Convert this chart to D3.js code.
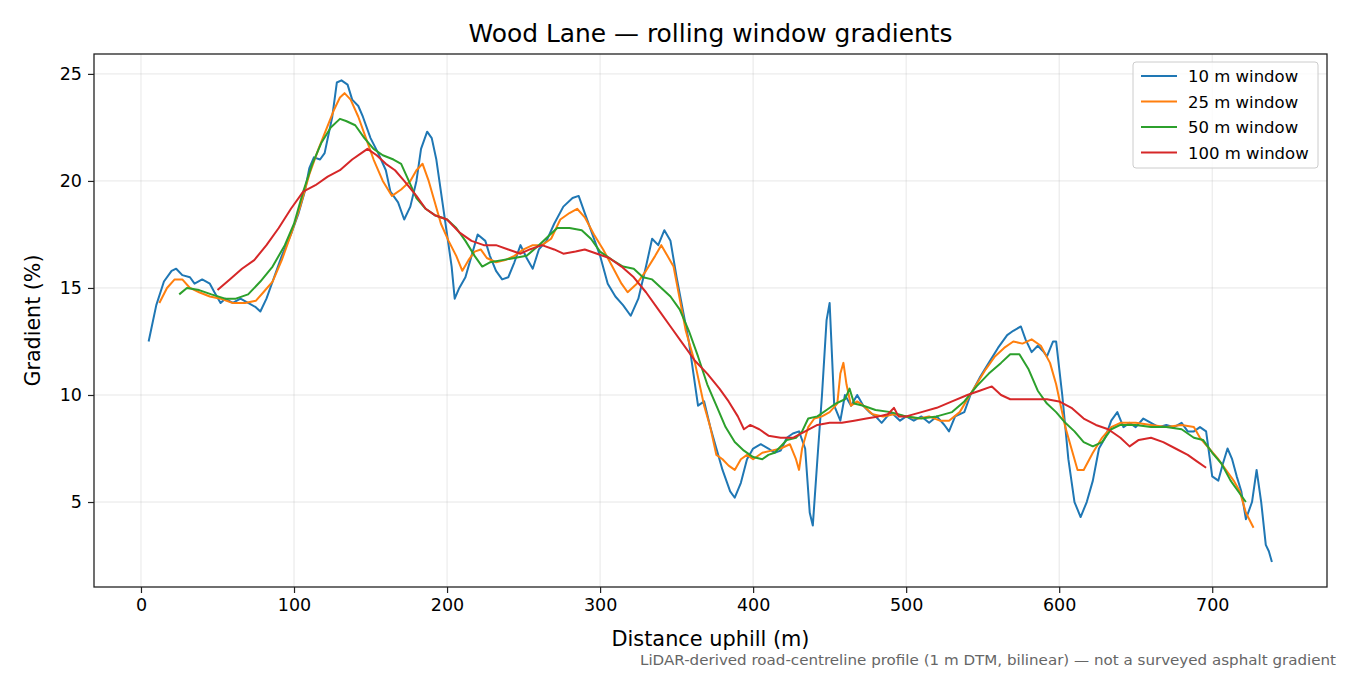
<!DOCTYPE html>
<html>
<head>
<meta charset="utf-8">
<script src="https://cdn.jsdelivr.net/npm/d3@7"></script>
<style>
  body { margin: 0; background: #fff; }
  text { font-family: "DejaVu Sans", sans-serif; }
</style>
</head>
<body>
<svg id="chart" width="1350" height="675"></svg>
<script>
// rolling window gradient series, [distance m, gradient %]
const win10 = [[5,12.5],[10,14.2],[15,15.3],[20,15.8],[23,15.9],[27,15.6],[32,15.5],[35,15.2],[40,15.4],[45,15.2],[48,14.8],[52,14.3],[55,14.5],[60,14.3],[65,14.5],[70,14.3],[75,14.1],[78,13.9],[82,14.5],[87,15.5],[92,16.5],[98,17.5],[103,18.5],[107,19.5],[110,20.6],[113,21.1],[117,21.0],[120,21.3],[125,23.0],[128,24.6],[131,24.7],[135,24.5],[138,23.8],[142,23.5],[145,23.0],[150,22.0],[155,21.3],[160,20.5],[163,19.5],[168,19.0],[172,18.2],[176,18.8],[180,20.0],[183,21.5],[187,22.3],[190,22.0],[193,21.0],[197,19.0],[200,17.5],[203,16.0],[205,14.5],[208,15.0],[212,15.5],[216,16.5],[220,17.5],[225,17.2],[228,16.5],[232,15.8],[236,15.4],[240,15.5],[244,16.2],[248,17.0],[252,16.4],[256,15.9],[260,16.8],[265,17.2],[270,18.0],[276,18.8],[282,19.2],[286,19.3],[290,18.5],[295,17.5],[300,16.5],[305,15.2],[310,14.6],[315,14.2],[320,13.7],[325,14.5],[330,16.0],[334,17.3],[338,17.0],[342,17.7],[346,17.2],[350,15.5],[354,14.0],[358,12.5],[361,11.0],[364,9.5],[368,9.7],[372,8.5],[376,7.5],[380,6.5],[385,5.5],[388,5.2],[392,5.9],[396,7.0],[400,7.5],[405,7.7],[410,7.5],[414,7.3],[418,7.4],[422,8.0],[426,8.2],[430,8.3],[434,7.5],[437,4.5],[439,3.9],[442,7.0],[445,10.0],[448,13.5],[450,14.3],[453,9.5],[457,8.8],[460,10.0],[464,9.5],[468,10.0],[472,9.5],[476,9.2],[480,9.0],[484,8.7],[490,9.2],[496,8.8],[500,9.0],[505,8.8],[510,9.0],[515,8.7],[520,9.0],[525,8.6],[528,8.3],[532,9.0],[538,9.2],[542,10.0],[548,10.8],[554,11.5],[560,12.2],[566,12.8],[570,13.0],[575,13.2],[578,12.6],[582,12.0],[586,12.3],[590,12.0],[592,11.8],[596,12.5],[598,12.5],[602,10.0],[606,7.0],[610,5.0],[614,4.3],[618,5.0],[622,6.0],[626,7.5],[630,8.0],[634,8.8],[638,9.2],[642,8.5],[646,8.7],[650,8.5],[655,8.9],[660,8.7],[665,8.5],[670,8.6],[675,8.5],[680,8.7],[684,8.3],[688,8.3],[692,8.5],[696,8.3],[700,6.2],[704,6.0],[707,6.8],[710,7.5],[713,7.0],[716,6.2],[719,5.5],[722,4.2],[726,5.0],[729,6.5],[732,5.0],[735,3.0],[737,2.7],[739,2.2]];
const win25 = [[12,14.3],[17,15.0],[22,15.4],[27,15.4],[32,15.0],[38,14.8],[45,14.6],[52,14.5],[60,14.3],[68,14.3],[75,14.4],[80,14.8],[86,15.3],[92,16.3],[98,17.5],[104,18.8],[110,20.3],[116,21.5],[121,22.4],[126,23.3],[130,23.9],[133,24.1],[137,23.8],[142,23.0],[147,22.0],[152,21.0],[158,20.0],[164,19.3],[170,19.6],[176,20.0],[180,20.5],[184,20.8],[188,20.0],[192,19.0],[196,18.0],[201,17.2],[206,16.5],[210,15.8],[214,16.3],[218,16.7],[222,16.8],[226,16.4],[232,16.2],[238,16.3],[244,16.5],[250,16.8],[256,17.0],[262,17.0],[268,17.3],[274,18.2],[280,18.5],[285,18.7],[290,18.3],[296,17.5],[302,16.8],[308,16.0],[314,15.2],[318,14.8],[324,15.2],[330,15.8],[336,16.5],[340,17.0],[344,16.5],[348,16.0],[352,14.5],[356,13.0],[362,11.5],[368,9.5],[372,8.5],[376,7.2],[380,7.0],[384,6.7],[388,6.5],[392,7.0],[396,7.2],[400,7.0],[406,7.3],[412,7.4],[418,7.5],[424,7.7],[428,7.0],[430,6.5],[432,7.5],[436,8.5],[440,8.9],[445,9.0],[450,9.2],[455,9.6],[457,11.0],[459,11.5],[461,10.5],[464,9.5],[468,9.7],[472,9.5],[478,9.1],[485,9.0],[492,9.1],[500,9.0],[508,8.9],[515,9.0],[522,8.8],[528,8.8],[535,9.2],[540,9.8],[546,10.5],[552,11.2],[558,11.8],[564,12.2],[570,12.5],[576,12.4],[582,12.6],[588,12.3],[594,11.5],[598,10.5],[604,8.5],[608,7.5],[612,6.5],[616,6.5],[622,7.3],[628,8.0],[634,8.5],[640,8.7],[650,8.7],[660,8.6],[670,8.5],[680,8.6],[688,8.5],[692,8.0],[698,7.5],[704,7.0],[710,6.4],[714,6.0],[718,5.5],[722,4.5],[727,3.8]];
const win50 = [[25,14.7],[30,15.0],[38,14.9],[46,14.7],[55,14.5],[62,14.5],[70,14.7],[78,15.3],[86,16.0],[94,17.0],[100,18.0],[106,19.5],[112,20.8],[118,21.8],[124,22.5],[130,22.9],[134,22.8],[140,22.6],[146,22.0],[152,21.5],[158,21.2],[165,21.0],[170,20.8],[175,20.0],[180,19.2],[186,18.7],[192,18.4],[200,18.2],[206,17.8],[212,17.2],[218,16.5],[223,16.0],[228,16.2],[236,16.3],[244,16.4],[252,16.5],[260,17.0],[266,17.4],[272,17.8],[280,17.8],[288,17.7],[294,17.3],[300,16.7],[308,16.3],[315,16.0],[322,15.9],[328,15.5],[334,15.4],[340,15.0],[346,14.6],[352,14.0],[358,13.0],[364,11.8],[370,10.5],[376,9.5],[382,8.5],[388,7.8],[394,7.4],[400,7.1],[406,7.0],[410,7.2],[414,7.3],[418,7.6],[422,7.9],[428,8.0],[432,8.3],[436,8.9],[442,9.0],[448,9.3],[454,9.6],[460,9.8],[463,10.3],[466,9.6],[472,9.5],[480,9.3],[490,9.2],[500,9.0],[510,8.9],[520,9.0],[530,9.2],[538,9.7],[546,10.4],[554,11.0],[562,11.5],[568,11.9],[574,11.9],[580,11.2],[586,10.2],[592,9.6],[598,9.2],[604,8.7],[610,8.3],[616,7.8],[622,7.6],[628,7.8],[634,8.4],[640,8.6],[650,8.6],[660,8.5],[670,8.5],[680,8.4],[688,8.0],[694,7.9],[700,7.3],[706,6.8],[712,6.0],[718,5.4],[722,5.0]];
const win100 = [[50,14.9],[58,15.4],[66,15.9],[74,16.3],[82,17.0],[90,17.8],[98,18.7],[106,19.5],[114,19.8],[122,20.2],[130,20.5],[138,21.0],[144,21.3],[148,21.5],[154,21.2],[160,20.8],[166,20.5],[172,20.0],[180,19.3],[186,18.7],[192,18.4],[200,18.2],[208,17.6],[216,17.2],[224,17.0],[232,17.0],[240,16.8],[248,16.6],[254,16.8],[262,17.0],[270,16.8],[276,16.6],[284,16.7],[290,16.8],[298,16.6],[306,16.4],[314,16.0],[322,15.5],[330,14.8],[338,14.0],[346,13.2],[354,12.4],[362,11.6],[370,11.0],[378,10.3],[384,9.7],[390,9.0],[394,8.4],[398,8.6],[404,8.4],[410,8.1],[418,8.0],[426,8.0],[434,8.3],[442,8.6],[450,8.7],[458,8.7],[466,8.8],[474,8.9],[482,9.0],[488,9.1],[492,9.4],[495,9.0],[500,9.0],[510,9.2],[520,9.4],[530,9.7],[540,10.0],[548,10.2],[556,10.4],[562,10.0],[568,9.8],[576,9.8],[584,9.8],[592,9.8],[600,9.7],[608,9.4],[616,8.9],[624,8.6],[632,8.4],[640,8.0],[646,7.6],[652,7.9],[660,8.0],[668,7.8],[676,7.5],[684,7.2],[690,6.9],[696,6.6]];

const seriesNames = ["10 m window", "25 m window", "50 m window", "100 m window"];
const seriesColors = ["#1f77b4", "#ff7f0e", "#2ca02c", "#d62728"];
const xTicks = [0, 100, 200, 300, 400, 500, 600, 700];
const yTicks = [5, 10, 15, 20, 25];

const svg = d3.select("#chart");
const m = { left: 94, right: 1327, top: 54, bottom: 587 };

const x = d3.scaleLinear().domain([-30.7, 775]).range([m.left, m.right]);
const y = d3.scaleLinear().domain([1.03, 25.93]).range([m.bottom, m.top]);

// grid
svg.append("g").selectAll("line").data(xTicks).join("line")
    .attr("x1", d => x(d)).attr("x2", d => x(d))
    .attr("y1", m.top).attr("y2", m.bottom)
    .attr("stroke", "#b0b0b0").attr("stroke-opacity", 0.3);
svg.append("g").selectAll("line").data(yTicks).join("line")
    .attr("x1", m.left).attr("x2", m.right)
    .attr("y1", d => y(d)).attr("y2", d => y(d))
    .attr("stroke", "#b0b0b0").attr("stroke-opacity", 0.3);

// lines
const line = d3.line().x(d => x(d[0])).y(d => y(d[1]));
[win10, win25, win50, win100].forEach((s, i) => {
    svg.append("path").datum(s)
        .attr("d", line)
        .attr("fill", "none")
        .attr("stroke", seriesColors[i])
        .attr("stroke-width", 2)
        .attr("stroke-linejoin", "round");
});

// axes
const xAxis = svg.append("g").attr("transform", `translate(0,${m.bottom})`)
    .call(d3.axisBottom(x).tickValues(xTicks).tickSize(6).tickPadding(6));
const yAxis = svg.append("g").attr("transform", `translate(${m.left},0)`)
    .call(d3.axisLeft(y).tickValues(yTicks).tickSize(6).tickPadding(6));
[xAxis, yAxis].forEach(a => {
    a.select(".domain").remove();
    a.selectAll("line").attr("stroke", "#222").attr("stroke-width", 1.2);
    a.selectAll("text").attr("font-size", 17.5).attr("fill", "#000")
        .attr("font-family", "DejaVu Sans, sans-serif");
});

svg.append("rect")
    .attr("x", m.left).attr("y", m.top)
    .attr("width", m.right - m.left).attr("height", m.bottom - m.top)
    .attr("fill", "none").attr("stroke", "#222").attr("stroke-width", 1.3);

// labels
svg.append("text").attr("x", (m.left + m.right) / 2).attr("y", 42)
    .attr("text-anchor", "middle").attr("font-size", 24.5)
    .attr("textLength", 484).attr("lengthAdjust", "spacingAndGlyphs")
    .text("Wood Lane — rolling window gradients");
svg.append("text").attr("x", (m.left + m.right) / 2).attr("y", 646)
    .attr("text-anchor", "middle").attr("font-size", 20.5)
    .attr("textLength", 198).attr("lengthAdjust", "spacingAndGlyphs")
    .text("Distance uphill (m)");
svg.append("text")
    .attr("transform", `translate(40,${(m.top + m.bottom) / 2}) rotate(-90)`)
    .attr("text-anchor", "middle").attr("font-size", 20.5)
    .attr("textLength", 132).attr("lengthAdjust", "spacingAndGlyphs")
    .text("Gradient (%)");
svg.append("text").attr("x", 1336).attr("y", 665)
    .attr("text-anchor", "end").attr("font-size", 14.5).attr("fill", "#666")
    .attr("textLength", 696).attr("lengthAdjust", "spacingAndGlyphs")
    .text("LiDAR-derived road-centreline profile (1 m DTM, bilinear) — not a surveyed asphalt gradient");

// legend
const lg = svg.append("g").attr("transform", "translate(1133,62)");
lg.append("rect").attr("width", 185).attr("height", 106).attr("rx", 3)
    .attr("fill", "#fff").attr("fill-opacity", 0.8)
    .attr("stroke", "#ccc");
seriesNames.forEach((n, i) => {
    const yy = 14 + i * 25.5;
    lg.append("line").attr("x1", 8).attr("x2", 44).attr("y1", yy).attr("y2", yy)
        .attr("stroke", seriesColors[i]).attr("stroke-width", 2);
    lg.append("text").attr("x", 55).attr("y", yy + 6).attr("font-size", 16.5).text(n);
});
</script>
</body>
</html>
